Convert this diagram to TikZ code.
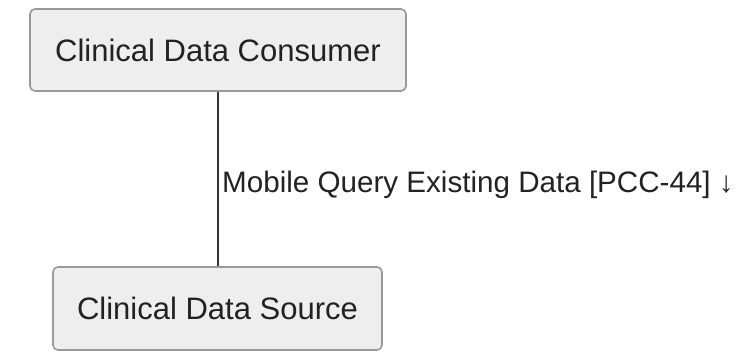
\documentclass[tikz,border=0pt]{standalone}
\usepackage{fontspec}
\setmainfont{Liberation Sans}
\definecolor{boxfill}{HTML}{EEEEEE}
\definecolor{boxline}{HTML}{999999}
\definecolor{linkline}{HTML}{333333}
\definecolor{txt}{HTML}{222222}
\begin{document}
\begin{tikzpicture}[x=1pt,y=1pt,
  actor/.style={draw=boxline, fill=boxfill, line width=1.6pt, rounded corners=5pt,
    text=txt, font=\fontsize{31}{36}\selectfont, inner sep=0pt, anchor=center},
  link/.style={draw=linkline, line width=2pt},
  linklabel/.style={text=txt, font=\fontsize{29.6}{34}\selectfont, anchor=west, inner sep=0pt}]
\useasboundingbox (0,0) rectangle (744,351);
\fill[white] (0,0) rectangle (744,351);
% actors (image y measured from the top, so y = 351 - row)
\node[actor, minimum width=376pt, minimum height=82pt] (consumer) at (218,301) {Clinical Data Consumer};
\node[actor, minimum width=329pt, minimum height=83pt] (source) at (217.5,42.5) {Clinical Data Source};
% transaction link
\draw[link] (consumer.south -| 218,0) -- (source.north -| 218,0);
\node[linklabel] (lbl) at (222,166) {Mobile Query Existing Data [PCC-44] ↓};
\end{tikzpicture}
\end{document}
